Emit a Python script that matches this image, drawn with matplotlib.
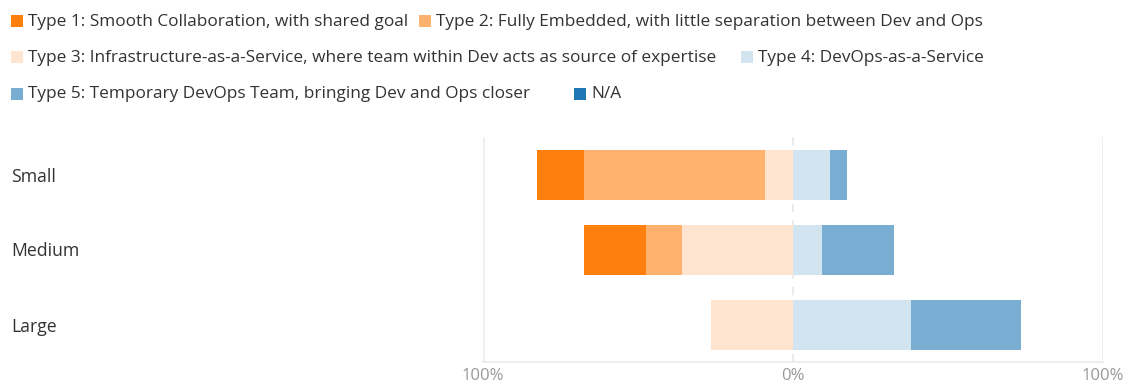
import numpy as np
import matplotlib.pyplot as plt
from matplotlib.patches import Rectangle

plt.rcParams['font.family'] = ['Open Sans', 'DejaVu Sans']

# data (percent of respondents per company size)
categories = ['Small', 'Medium', 'Large']
type1 = [15.1, 20.1, 0.0]
type2 = [58.4, 11.6, 0.0]
type3 = [9.1, 35.8, 26.5]
type4 = [11.9, 9.2, 38.1]
type5 = [5.5, 23.3, 35.4]
type_na = [0.0, 0.0, 0.0]

labels = ['Type 1: Smooth Collaboration, with shared goal',
          'Type 2: Fully Embedded, with little separation between Dev and Ops',
          'Type 3: Infrastructure-as-a-Service, where team within Dev acts as source of expertise',
          'Type 4: DevOps-as-a-Service',
          'Type 5: Temporary DevOps Team, bringing Dev and Ops closer',
          'N/A']
colors = ['#ff7f0e', '#ffb26e', '#ffe5cf', '#d2e4f0', '#79add2', '#1f77b4']

tick_vals = [-100, 0, 100]
tick_labels = ['100%', '0%', '100%']

W, H = 1135, 391
fig = plt.figure(figsize=(W / 100, H / 100), dpi=100)
ax = fig.add_axes([483 / W, 1 - 362 / H, 620 / W, 225 / H])

y = np.arange(len(categories))
h = 2 / 3

# left side: type 3 next to zero, then 2, then 1
left = np.zeros(len(categories))
for vals, c in [(type3, colors[2]), (type2, colors[1]), (type1, colors[0])]:
    v = np.array(vals)
    ax.barh(y, -v, left=-left, height=h, color=c, linewidth=0)
    left += v

# right side: type 4, 5, N/A
right = np.zeros(len(categories))
for vals, c in [(type4, colors[3]), (type5, colors[4]), (type_na, colors[5])]:
    v = np.array(vals)
    ax.barh(y, v, left=right, height=h, color=c, linewidth=0)
    right += v

ax.set_xlim(-100, 100)
ax.set_ylim(2.5, -0.5)
ax.axvline(-100, color='#eeeeee', lw=2, zorder=0)
ax.axvline(100, color='#eeeeee', lw=2, zorder=0)
ax.axvline(0, color='#e8e8e8', lw=1.2, ls=(0, (5, 5)), zorder=0)
for s in ['top', 'left', 'right']:
    ax.spines[s].set_visible(False)
ax.spines['bottom'].set_color('#eeeeee')
ax.spines['bottom'].set_linewidth(1.5)

ax.set_xticks(tick_vals, tick_labels, color='#999999', fontsize=12)
ax.tick_params(axis='x', length=0, pad=4)
ax.set_yticks(y, categories, fontsize=12.7, color='#333333')
ax.tick_params(axis='y', length=0, pad=472 * 0.72)
for t in ax.get_yticklabels():
    t.set_ha('left')

# flowing legend on three rows
leg_x = [11, 419, 11, 741, 11, 574]
leg_y = [20.5, 20.5, 57, 57, 93.5, 93.5]
for lab, c, lx, ly in zip(labels, colors, leg_x, leg_y):
    fig.add_artist(Rectangle((lx / W, 1 - (ly + 6) / H), 12 / W, 12 / H,
                             transform=fig.transFigure, color=c, lw=0))
    fig.text((lx + 17) / W, 1 - (ly + 1) / H, lab, fontsize=12.4, color='#333333',
             va='center', ha='left')

fig.savefig('out.png', dpi=100)
